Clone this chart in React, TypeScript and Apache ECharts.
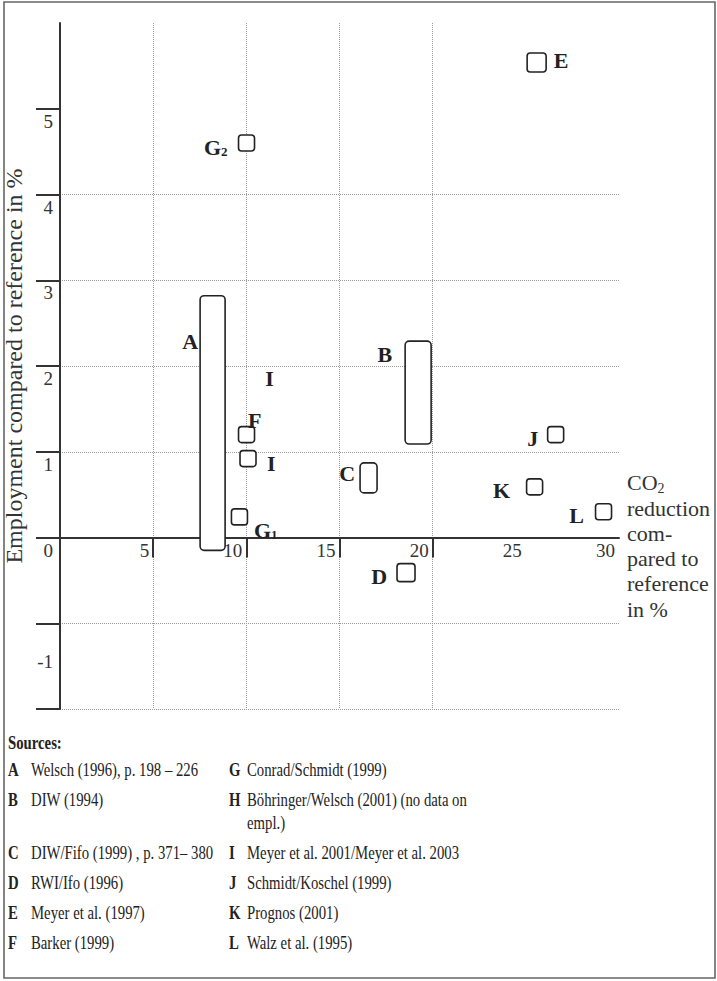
import React, { useEffect, useRef } from "react";
import * as echarts from "echarts";

const FONT = "Liberation Serif, Times New Roman, serif";
const INK = "#222";

// Single-estimate studies: CO2 reduction (%) vs. employment effect (%)
const pointIds = ["E", "G2", "F", "I", "G1", "J", "K", "L", "D"];
const pointX = [25.58, 10.01, 10.01, 10.09, 9.63, 26.6, 25.47, 29.17, 18.57];
const pointY = [5.54, 4.6, 1.2, 0.92, 0.24, 1.2, 0.59, 0.3, -0.41];

// Studies reporting a range of employment effects
const rangeIds = ["A", "B", "C"];
const rangeX = [8.19, 19.22, 16.56];
const rangeLow = [-0.15, 1.09, 0.52];
const rangeHigh = [2.82, 2.29, 0.87];

// Free-standing label
const noteIds = ["I"];
const noteX = [11.24];
const noteY = [1.855];

// Axis ticks
const xLabelValues = [5, 10, 15, 20, 25, 30];
const xTickValues = [5, 10, 15, 20];
const yLabelValues = [-1, 0, 1, 2, 3, 4, 5];
const yTickValues = [-2, -1, 0, 1, 2, 3, 4, 5];

// Source list
const sourcesLeft: [string, string][] = [
  ["A", "Welsch (1996), p. 198 – 226"],
  ["B", "DIW (1994)"],
  ["C", "DIW/Fifo (1999) , p. 371– 380"],
  ["D", "RWI/Ifo (1996)"],
  ["E", "Meyer et al. (1997)"],
  ["F", "Barker (1999)"],
];
const sourcesRight: [string, string][] = [
  ["G", "Conrad/Schmidt (1999)"],
  ["H", "Böhringer/Welsch (2001) (no data on\nempl.)"],
  ["I", "Meyer et al. 2001/Meyer et al. 2003"],
  ["J", "Schmidt/Koschel (1999)"],
  ["K", "Prognos (2001)"],
  ["L", "Walz et al. (1995)"],
];

// Layout / styling of marks and labels
const pointSize = [19, 16, 16, 16, 16, 16, 16, 16, 18];
const pointLabel = [
  { dx: 17, dy: -2, align: "left" },
  { dx: -19, dy: 4, align: "right" },
  { dx: 1.5, dy: -14.5, align: "left" },
  { dx: 19, dy: 4.5, align: "left" },
  { dx: 14.5, dy: 13.5, align: "left" },
  { dx: -17.5, dy: 3.5, align: "right" },
  { dx: -24.5, dy: 3.5, align: "right" },
  { dx: -19.5, dy: 3.5, align: "right" },
  { dx: -19, dy: 4, align: "right" },
];
const rangeWidth = [25, 26, 17];
const rangeLabel = [
  { dx: -2, dy: 46 },
  { dx: -13, dy: 13 },
  { dx: -5, dy: 11 },
];
const sourceRowY = [770, 800, 853, 883, 913, 943];

const labelRich = {
  m: { fontSize: 22, fontWeight: "bold", fontFamily: FONT, fill: INK },
  s: { fontSize: 13, fontWeight: "bold", fontFamily: FONT, fill: INK, verticalAlign: "bottom" },
};

function labelText(id: string): string {
  const m = id.match(/^([A-Z])(\d)$/);
  return m ? `{m|${m[1]}}{s|${m[2]}}` : `{m|${id}}`;
}

function sourceGraphics(): any[] {
  const items: any[] = [];
  const sx = 0.82;
  const textStyle = (text: string, bold: boolean) => ({
    text,
    fontSize: 18,
    fontWeight: bold ? "bold" : "normal",
    fontFamily: FONT,
    fill: INK,
    verticalAlign: "top",
    lineHeight: 23,
  });
  items.push({
    type: "text",
    x: 8,
    y: 731,
    scaleX: sx,
    style: textStyle("Sources:", true),
  });
  const addCol = (rows: [string, string][], keyX: number, textX: number) => {
    rows.forEach(([k, t], i) => {
      const top = sourceRowY[i] - 11.5;
      items.push({ type: "text", x: keyX, y: top, scaleX: sx, style: textStyle(k, true) });
      items.push({ type: "text", x: textX, y: top, scaleX: sx, style: textStyle(t, false) });
    });
  };
  addCol(sourcesLeft, 8, 31);
  addCol(sourcesRight, 229, 247);
  items.push({
    type: "rect",
    shape: { x: 4, y: 2, width: 711, height: 976 },
    style: { fill: "none", stroke: "#666", lineWidth: 1.6 },
  });
  return items;
}

export default function App() {
  const ref = useRef<HTMLDivElement>(null);

  useEffect(() => {
    if (!ref.current) return;
    const chart = echarts.init(ref.current, null, { renderer: "svg" });

    const option: any = {
      animation: false,
      backgroundColor: "#fff",
      textStyle: { fontFamily: FONT },
      grid: {
        left: 60,
        top: 23,
        width: 559,
        height: 686,
        containLabel: false,
        outerBoundsMode: "none",
      },
      xAxis: {
        type: "value",
        min: 0,
        max: 30,
        interval: 5,
        name: "{n|CO}{s|2}\nreduction\ncom-\npared to\nreference\nin %",
        nameLocation: "end",
        nameGap: 8,
        nameTextStyle: {
          fontSize: 22,
          fontFamily: FONT,
          color: "#333",
          align: "left",
          verticalAlign: "middle",
          lineHeight: 25.3,
          padding: [17, 0, 0, 0],
          rich: {
            n: { fontSize: 22, fontFamily: FONT, color: "#333" },
            s: { fontSize: 14, fontFamily: FONT, color: "#333", verticalAlign: "bottom" },
          },
        },
        axisLine: { onZero: true, lineStyle: { color: "#333", width: 2 } },
        axisTick: {
          show: true,
          inside: false,
          length: 20,
          customValues: xTickValues,
          lineStyle: { color: "#333", width: 2 },
        },
        // tick labels are drawn along the zero line by the "xTickLabels" series
        axisLabel: { show: false },
        splitLine: { show: true, lineStyle: { color: "#999", type: [1, 1], width: 1 } },
      },
      yAxis: {
        type: "value",
        min: -2,
        max: 6,
        interval: 1,
        name: "Employment compared to reference in %",
        nameLocation: "middle",
        nameRotate: 90,
        nameGap: 25,
        nameTextStyle: { fontSize: 24, fontFamily: FONT, color: "#333" },
        axisLine: { show: true, onZero: true, lineStyle: { color: "#333", width: 2 } },
        axisTick: {
          show: true,
          inside: false,
          length: 24,
          customValues: yTickValues,
          lineStyle: { color: "#333", width: 2 },
        },
        axisLabel: {
          customValues: yLabelValues,
          align: "right",
          verticalAlign: "top",
          margin: 7,
          fontSize: 19,
          fontFamily: FONT,
          color: "#333",
          formatter: (v: number) => (v === -1 ? `{n|${v}}` : `{d|${v}}`),
          rich: {
            d: { fontSize: 19, fontFamily: FONT, color: "#333", padding: [3, 0, 0, 0] },
            n: { fontSize: 19, fontFamily: FONT, color: "#333", padding: [29, 0, 0, 0] },
          },
        },
        splitLine: {
          show: true,
          showMaxLine: false,
          lineStyle: { color: "#999", type: [1, 1], width: 1 },
        },
      },
      series: [
        {
          type: "custom",
          name: "xTickLabels",
          coordinateSystem: "cartesian2d",
          clip: false,
          z: 1,
          silent: true,
          encode: { x: 0, y: 1 },
          data: xLabelValues.map((v) => [v, 0]),
          renderItem: (_p: any, api: any) => {
            const c = api.coord([api.value(0), api.value(1)]);
            return {
              type: "text",
              x: c[0] - 4,
              y: c[1] + 3,
              style: {
                text: String(api.value(0)),
                fontSize: 19,
                fontFamily: FONT,
                fill: "#333",
                align: "right",
                verticalAlign: "top",
              },
            };
          },
        },
        {
          type: "custom",
          name: "ranges",
          coordinateSystem: "cartesian2d",
          clip: false,
          z: 3,
          encode: { x: 0, y: [1, 2] },
          data: rangeIds.map((_, i) => [rangeX[i], rangeLow[i], rangeHigh[i], i]),
          renderItem: (_p: any, api: any) => {
            const i = api.value(3);
            const top = api.coord([api.value(0), api.value(2)]);
            const bot = api.coord([api.value(0), api.value(1)]);
            const w = rangeWidth[i];
            const left = top[0] - w / 2;
            const lab = rangeLabel[i];
            return {
              type: "group",
              children: [
                {
                  type: "rect",
                  shape: { x: left, y: top[1], width: w, height: bot[1] - top[1], r: 4 },
                  style: { fill: "#fff", stroke: INK, lineWidth: 1.6 },
                },
                {
                  type: "text",
                  x: left + lab.dx,
                  y: top[1] + lab.dy,
                  style: {
                    text: labelText(rangeIds[i]),
                    rich: labelRich,
                    align: "right",
                    verticalAlign: "middle",
                  },
                },
              ],
            };
          },
        },
        {
          type: "custom",
          name: "points",
          coordinateSystem: "cartesian2d",
          clip: false,
          z: 4,
          encode: { x: 0, y: 1 },
          data: pointIds.map((_, i) => [pointX[i], pointY[i], i]),
          renderItem: (_p: any, api: any) => {
            const i = api.value(2);
            const c = api.coord([api.value(0), api.value(1)]);
            const s = pointSize[i];
            const lab = pointLabel[i];
            return {
              type: "group",
              children: [
                {
                  type: "rect",
                  shape: { x: c[0] - s / 2, y: c[1] - s / 2, width: s, height: s, r: 3 },
                  style: { fill: "#fff", stroke: INK, lineWidth: 1.6 },
                },
                {
                  type: "text",
                  x: c[0] + lab.dx,
                  y: c[1] + lab.dy,
                  style: {
                    text: labelText(pointIds[i]),
                    rich: labelRich,
                    align: lab.align,
                    verticalAlign: "middle",
                  },
                },
              ],
            };
          },
        },
        {
          type: "custom",
          name: "notes",
          coordinateSystem: "cartesian2d",
          clip: false,
          z: 4,
          encode: { x: 0, y: 1 },
          data: noteIds.map((_, i) => [noteX[i], noteY[i], i]),
          renderItem: (_p: any, api: any) => {
            const i = api.value(2);
            const c = api.coord([api.value(0), api.value(1)]);
            return {
              type: "text",
              x: c[0],
              y: c[1],
              style: {
                text: labelText(noteIds[i]),
                rich: labelRich,
                align: "center",
                verticalAlign: "middle",
              },
            };
          },
        },
      ],
      graphic: sourceGraphics(),
    };

    chart.setOption(option);
    return () => chart.dispose();
  }, []);

  return (
    <div
      ref={ref}
      style={{ position: "fixed", left: 0, top: 0, width: 717, height: 981, background: "#fff" }}
    />
  );
}
